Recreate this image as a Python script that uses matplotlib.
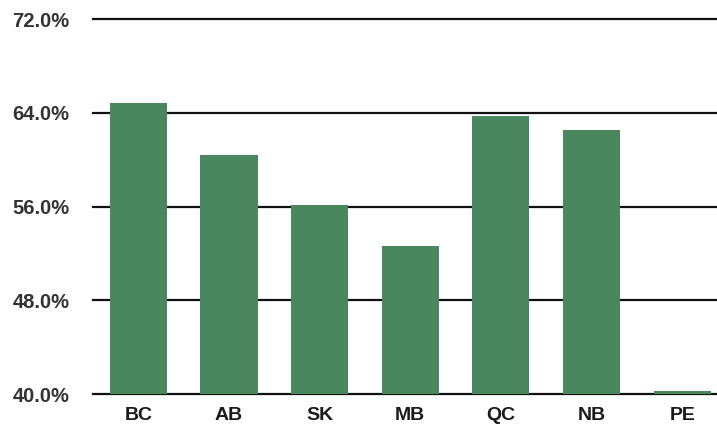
import matplotlib.pyplot as plt
import matplotlib as mpl

mpl.rcParams.update({"font.family": ["Liberation Sans", "DejaVu Sans"]})

provinces = ["BC", "AB", "SK", "MB", "QC", "NB", "PE"]
values = [64.8, 60.4, 56.1, 52.6, 63.7, 62.5, 40.3]
yticks = [40, 48, 56, 64, 72]
ytick_labels = ["40.0%", "48.0%", "56.0%", "64.0%", "72.0%"]

fig = plt.figure(figsize=(7.17, 4.33), dpi=100)
ax = fig.add_axes([0.1297, 0.09, 1.0 - 0.1297, 0.956 - 0.09])

x = range(len(provinces))
ax.bar(x, [v - 40 for v in values], bottom=40, width=0.63,
       color="#4b875e", zorder=3)

for t in yticks:
    ax.axhline(t, color="#111111", linewidth=1.6, zorder=2, clip_on=False)

ax.set_ylim(40, 72)
ax.set_xlim(-0.5, 6.384)
ax.set_yticks(yticks)
ax.set_yticklabels(ytick_labels, fontsize=14.5, fontweight="bold", color="#333333")
ax.set_xticks(list(x))
ax.set_xticklabels(provinces, fontsize=14, fontweight="bold", color="#1a1a1a")
ax.tick_params(axis="y", length=0, pad=17)
ax.tick_params(axis="x", length=0, pad=9)

for s in ax.spines.values():
    s.set_visible(False)

fig.savefig("out.png", dpi=100)
